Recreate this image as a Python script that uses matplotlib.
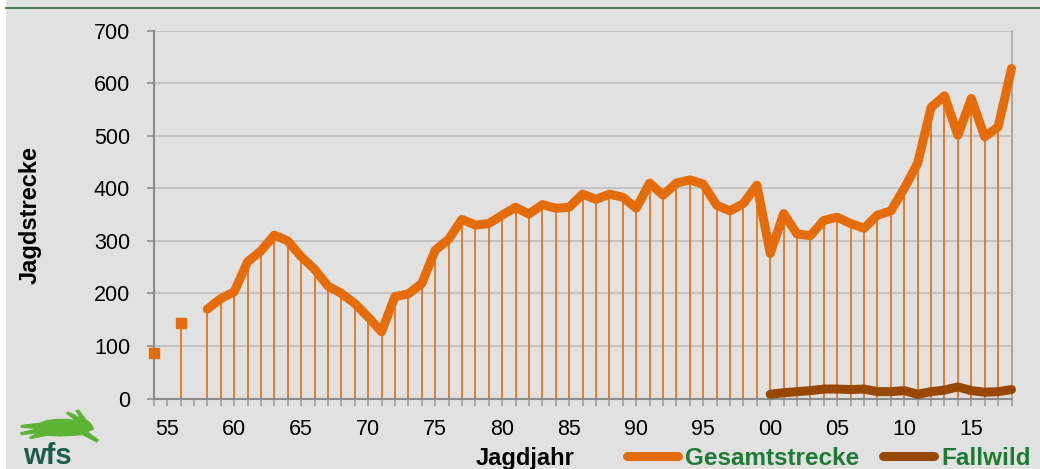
import numpy as np
import matplotlib
matplotlib.use("Agg")
import matplotlib.pyplot as plt
from matplotlib.lines import Line2D
from matplotlib.patches import Polygon, Rectangle
from matplotlib import font_manager

nan = np.nan
years = list(range(1954, 2019))
gesamt = [87, nan, 143, nan, 170, 190, 203, 260, 281, 311, 300, 270, 246, 214, 200,
          181, 155, 127, 194, 199, 219, 282, 303, 341, 330, 333, 349, 364, 351, 369,
          362, 364, 389, 379, 389, 383, 362, 410, 387, 410, 416, 408, 368, 357, 371,
          406, 276, 352, 313, 310, 339, 345, 333, 324, 349, 357, 400, 448, 554, 576,
          501, 571, 498, 517, 628]
fall_years = list(range(2000, 2019))
fallwild = [8, 11, 13, 15, 18, 18, 17, 18, 13, 13, 15, 8, 13, 16, 22, 15, 12, 13, 17]
label_years = list(range(1955, 2016, 5))
x_labels = ["55", "60", "65", "70", "75", "80", "85", "90", "95", "00", "05", "10", "15"]
y_ticks = [0, 100, 200, 300, 400, 500, 600, 700]

ORANGE = "#E46C0A"
BROWN = "#974806"
GREEN_TXT = "#1E7A35"
BG = "#E1E1E1"

plt.rcParams['font.family'] = ['Liberation Sans', 'DejaVu Sans']

avail = {f.name for f in font_manager.fontManager.ttflist}
LOGO_FONT = 'Liberation Sans Narrow' if 'Liberation Sans Narrow' in avail else 'Liberation Sans'

W, H = 1040, 469
fig = plt.figure(figsize=(W / 100, H / 100), dpi=100, facecolor=BG)

def fx(px):
    return px / W

def fy(py):
    return 1 - py / H

# white strip at left, green line on top
fig.add_artist(Rectangle((0, 0), fx(6), 1, transform=fig.transFigure,
                         facecolor="white", edgecolor="none", zorder=0))
fig.add_artist(Line2D([fx(6), 1], [fy(8.5), fy(8.5)], transform=fig.transFigure,
                      color="#2E6B3A", lw=1.2))

left, right, top, bottom = 153.7, 1011.5, 30.7, 398.5
ax = fig.add_axes([fx(left), fy(bottom), fx(right - left), (bottom - top) / H])
ax.set_facecolor(BG)

ax.set_xlim(1954, 2018)
ax.set_ylim(0, 700)

ax.grid(axis="y", color="#BDBDBD", lw=1.2, zorder=0)
ax.set_axisbelow(True)

g = np.array(gesamt, dtype=float)
yrs = np.array(years)
mask = ~np.isnan(g)
ax.vlines(yrs[mask], 0, g[mask], color=ORANGE, lw=1.2, zorder=2, clip_on=False)

line_g, = ax.plot(yrs, g, color=ORANGE, lw=6.5, solid_capstyle="round",
                  solid_joinstyle="round", zorder=4, label="Gesamtstrecke",
                  clip_on=False)
# isolated points get square markers
iso = []
for i in range(len(g)):
    if np.isnan(g[i]):
        continue
    prev_nan = i == 0 or np.isnan(g[i - 1])
    next_nan = i == len(g) - 1 or np.isnan(g[i + 1])
    if prev_nan and next_nan:
        iso.append(i)
ax.plot(yrs[iso], g[iso], ls="none", marker="s", ms=6.5, color=ORANGE, zorder=5,
        clip_on=False)

line_f, = ax.plot(fall_years, fallwild, color=BROWN, lw=6.5, solid_capstyle="round",
                  solid_joinstyle="round", zorder=4, label="Fallwild", clip_on=False)

for s in ["left", "bottom"]:
    ax.spines[s].set_color("#8C8C8C")
    ax.spines[s].set_linewidth(1.5)
ax.spines["right"].set_color("#ABABAB")
ax.spines["right"].set_linewidth(1.2)
ax.spines["top"].set_visible(False)

ax.set_yticks(y_ticks)
ax.set_yticklabels([str(v) for v in y_ticks])
ax.set_xticks(label_years)
ax.set_xticklabels(x_labels)
ax.set_xticks(years, minor=True)
ax.tick_params(axis="y", which="major", direction="out", length=5, width=1.2,
               color="#8C8C8C", labelsize=15.5, pad=12)
ax.tick_params(axis="x", which="both", direction="out", length=5, width=1.2,
               color="#9A9A9A", labelsize=15.5, pad=10)

ax.set_ylabel("Jagdstrecke", fontsize=17, fontweight="bold", labelpad=0)
ax.yaxis.set_label_coords((42 - left) / (right - left), 0.5)

fig.text(fx(525), fy(458), "Jagdjahr", fontsize=17, fontweight="bold",
         ha="center", va="center", color="black")

leg = fig.legend(handles=[line_g, line_f], loc="center right",
                 bbox_to_anchor=(fx(1031), fy(458)), ncol=2, frameon=False,
                 fontsize=17.5, handlelength=2.1, handletextpad=0.3,
                 columnspacing=0.99, borderpad=0, borderaxespad=0)
for t in leg.get_texts():
    t.set_color(GREEN_TXT)
    t.set_fontweight("bold")

# logo: hare silhouette + "wfs"
hare_zoom = [(278, 80), (270, 68), (258, 60), (236, 30), (228, 32), (240, 52),
             (244, 58), (226, 46), (204, 36), (200, 40), (222, 58), (232, 64),
             (205, 58), (170, 58), (140, 62), (118, 70), (64, 76), (64, 82),
             (116, 86), (62, 98), (64, 104), (118, 98), (88, 112), (92, 116),
             (140, 106), (180, 108), (220, 106), (248, 104), (290, 126),
             (296, 120), (282, 110), (262, 96), (268, 92), (280, 88)]
hare_pts = [(fx(x / 3), fy(400 + y / 3)) for x, y in hare_zoom]
fig.add_artist(Polygon(hare_pts, closed=True, transform=fig.transFigure,
                       facecolor="#5DB336", edgecolor="#5DB336", lw=0.8,
                       joinstyle="round"))
fig.text(fx(47), fy(456), "wfs", fontsize=21, fontweight="bold", color="#1D5C4A",
         ha="center", va="center", family=LOGO_FONT)

fig.savefig("out.png", dpi=100, facecolor=BG)
